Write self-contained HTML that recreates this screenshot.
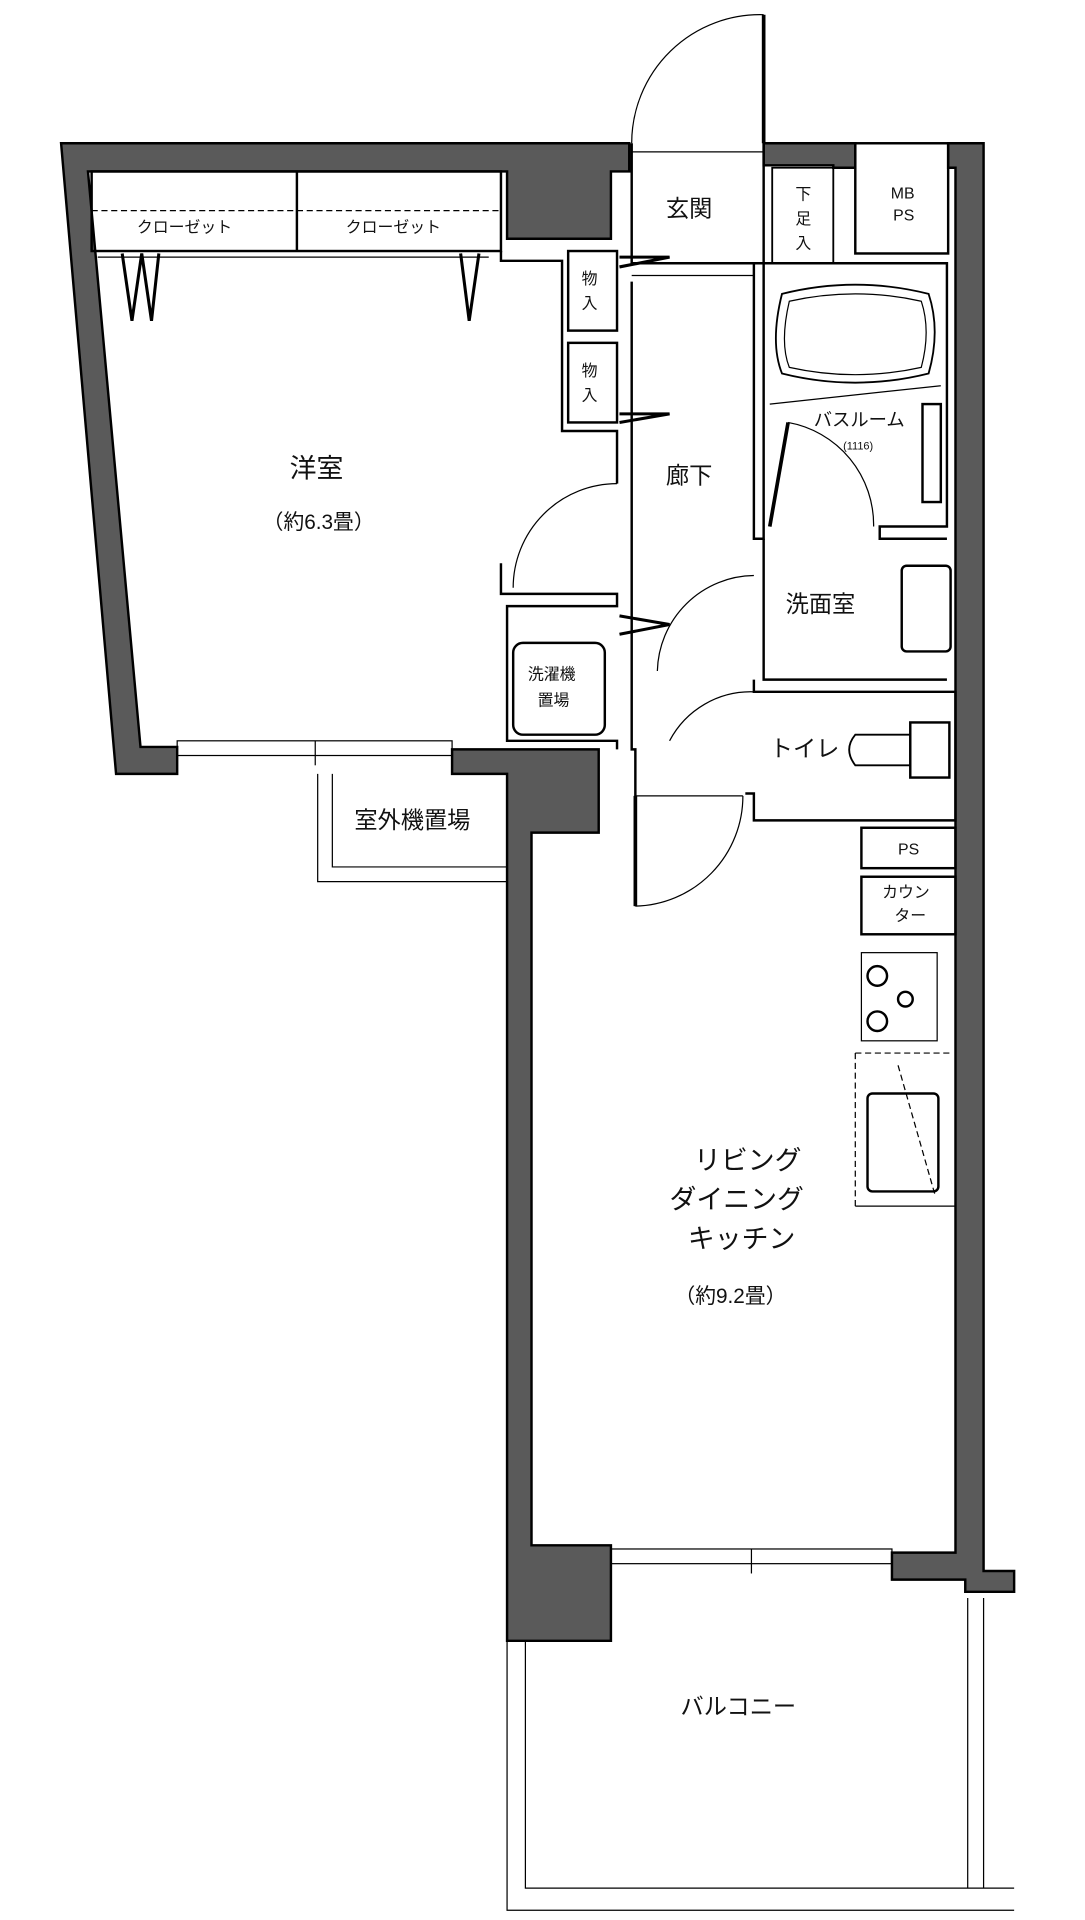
<!DOCTYPE html>
<html><head><meta charset="utf-8"><style>
html,body{margin:0;padding:0;background:#fff}
svg{display:block}
text{font-family:"Liberation Sans","Noto Sans CJK JP",sans-serif;fill:#111}
</style></head><body>
<svg width="1085" height="1920" viewBox="0 0 888 1568" preserveAspectRatio="none" xmlns="http://www.w3.org/2000/svg">
<g fill="#5a5a5a" stroke="#000" stroke-width="2">
<path d="M50,117 L515,117 L515,140 L500,140 L500,195 L415,195 L415,140 L72,140 L115,610 L145,610 L145,632 L95,632 Z"/>
<path d="M370,612 L490,612 L490,680 L435,680 L435,1262 L500,1262 L500,1340 L415,1340 L415,632 L370,632 Z"/>
<path d="M625,117 L700,117 L700,137 L682,137 L682,135 L625,135 Z"/>
<path d="M776,117 L805,117 L805,1283 L830,1283 L830,1300 L790,1300 L790,1290 L730,1290 L730,1268 L782,1268 L782,137 L776,137 Z"/>
</g>
<g fill="none" stroke="#000" stroke-width="2">
<rect x="75" y="140" width="335" height="65"/>
<line x1="243" y1="140" x2="243" y2="205"/>
<line x1="75" y1="172" x2="410" y2="172" stroke-width="1" stroke-dasharray="5,3"/>
<line x1="80" y1="210" x2="400" y2="210" stroke-width="1"/>
<path d="M100,207 L108,262 L116,207 L124,262 L130,207" stroke-width="2.5"/>
<path d="M377,207 L384,262 L392,207" stroke-width="2.5"/>
<path d="M410,205 L410,213 L460,213 L460,352 L505,352 L505,395"/>
<path d="M410,460 L410,485 L505,485 L505,495 L415,495 L415,605 L505,605 L505,612"/>
<path d="M517,117 L517,215 L625,215 L625,117"/>
<path d="M517,230 L517,612 L520,612 L520,740"/>
<line x1="517" y1="225" x2="617" y2="225" stroke-width="1"/>
<rect x="465" y="205" width="40" height="65"/>
<rect x="465" y="280" width="40" height="65"/>
<path d="M507,210 L548,210 L507,218" stroke-width="2.5"/>
<path d="M507,338 L548,338 L507,345" stroke-width="2.5"/>
<path d="M507,503 L548,510 L507,518" stroke-width="2.5"/>
<path d="M505,395 A85,85 0 0 0 420,480" stroke-width="1"/>
<rect x="420" y="525" width="75" height="75" rx="8"/>
<path d="M632,137 L682,137 L682,215 L632,215 Z" stroke-width="1.5"/>
<path d="M625,117 L625,12" stroke-width="3"/>
<path d="M517,117 A105,105 0 0 1 625,12" stroke-width="1"/>
<line x1="517" y1="124" x2="625" y2="124" stroke-width="1"/>
<rect x="700" y="117" width="76" height="90"/>
<path d="M617,215 L617,440 L625,440 L625,215 L775,215 L775,430 L720,430 L720,440 L775,440"/>
<path d="M625,440 L625,555 L775,555"/>
<path d="M640,240 Q630,280 640,305 Q700,320 760,305 Q770,270 760,240 Q700,225 640,240 Z" stroke-width="1.5"/>
<path d="M646,246 Q638,280 646,300 Q700,312 754,300 Q762,270 754,246 Q700,234 646,246 Z" stroke-width="1"/>
<line x1="630" y1="330" x2="770" y2="315" stroke-width="1"/>
<path d="M630,430 L645,345" stroke-width="3"/>
<path d="M645,345 A85,85 0 0 1 715,430" stroke-width="1"/>
<rect x="755" y="330" width="15" height="80"/>
<path d="M538,548 A80,80 0 0 1 617,470" stroke-width="1"/>
<rect x="738" y="462" width="40" height="70" rx="4"/>
<path d="M617,555 L617,565 L782,565 L782,670 L617,670 L617,648 L610,648"/>
<path d="M548,605 A75,75 0 0 1 617,565" stroke-width="1"/>
<path d="M520,650 L608,650" stroke-width="1"/>
<path d="M520,740 A90,90 0 0 0 608,650" stroke-width="1"/>
<path d="M520,650 L520,740" stroke-width="3"/>
<path d="M700,600 Q690,612 700,625 L745,625 L745,600 Z" stroke-width="1.5"/>
<rect x="745" y="590" width="32" height="45"/>
<rect x="705" y="676" width="77" height="33"/>
<rect x="705" y="716" width="77" height="47"/>
<rect x="705" y="778" width="62" height="72" stroke-width="1"/>
<line x1="700" y1="860" x2="780" y2="860" stroke-width="1" stroke-dasharray="5,3"/>
<line x1="700" y1="860" x2="700" y2="985" stroke-width="1" stroke-dasharray="5,3"/>
<line x1="735" y1="870" x2="765" y2="975" stroke-width="1" stroke-dasharray="5,3"/>
<rect x="710" y="893" width="58" height="80" rx="4"/>
<line x1="700" y1="985" x2="782" y2="985" stroke-width="1"/>
<circle cx="718" cy="797" r="8"/><circle cx="741" cy="816" r="6"/><circle cx="718" cy="834" r="8"/>
<rect x="145" y="605" width="225" height="12" stroke-width="1"/>
<line x1="258" y1="605" x2="258" y2="625" stroke-width="1"/>
<rect x="500" y="1265" width="230" height="12" stroke-width="1"/>
<line x1="615" y1="1265" x2="615" y2="1285" stroke-width="1"/>
<path d="M260,632 L260,720 L415,720" stroke-width="1"/>
<path d="M272,632 L272,708 L415,708" stroke-width="1"/>
<path d="M415,1340 L415,1560 L830,1560" stroke-width="1"/>
<path d="M430,1340 L430,1542 L830,1542" stroke-width="1"/>
<path d="M792,1305 L792,1542 M805,1305 L805,1542" stroke-width="1"/>
</g>
<g font-size="13">
<text x="112" y="190">クローゼット</text>
<text x="283" y="190">クローゼット</text>
<text x="476" y="232">物</text><text x="476" y="252">入</text>
<text x="476" y="307">物</text><text x="476" y="327">入</text>
<text x="651" y="163">下</text><text x="651" y="183">足</text><text x="651" y="203">入</text>
<text x="729" y="162">MB</text><text x="731" y="180">PS</text>
<text x="432" y="555">洗濯機</text><text x="440" y="576">置場</text>
<text x="735" y="698">PS</text>
<text x="722" y="733">カウン</text><text x="732" y="752">ター</text>
<text x="690" y="367" font-size="9">(1116)</text>
</g>
<g font-size="19">
<text x="545" y="177">玄関</text>
<text x="545" y="395">廊下</text>
<text x="643" y="500">洗面室</text>
<text x="630" y="618">トイレ</text>
<text x="290" y="676">室外機置場</text>
<text x="557" y="1400">バルコニー</text>
<text x="666" y="348" font-size="15">バスルーム</text>
<text x="237" y="390" font-size="22">洋室</text>
<text x="215" y="432" font-size="17">（約6.3畳）</text>
<text x="568" y="955" font-size="22">リビング</text>
<text x="548" y="987" font-size="22">ダイニング</text>
<text x="563" y="1019" font-size="22">キッチン</text>
<text x="552" y="1064" font-size="17">（約9.2畳）</text>
</g>
</svg>
</body></html>
